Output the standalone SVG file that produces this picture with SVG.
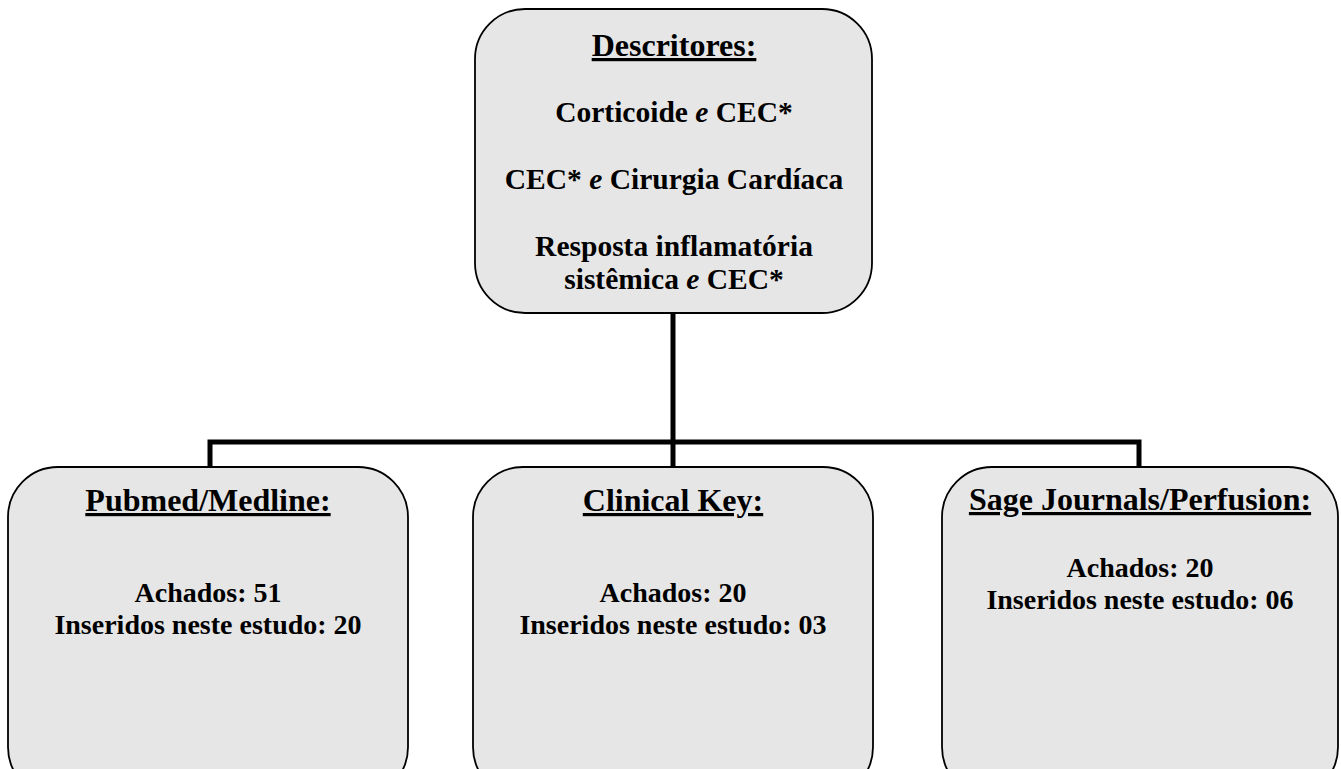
<svg xmlns="http://www.w3.org/2000/svg" width="1341" height="769" viewBox="0 0 1341 769">
<style>
.box{fill:#e6e6e6;stroke:#000;stroke-width:1.8}
.t{font-family:"Liberation Serif","Times New Roman",serif;font-weight:bold;fill:#000;text-anchor:middle}
.h{font-size:32px;text-decoration:underline}
.b{font-size:28px}
.bt{font-size:29.5px}
.c{fill:none;stroke:#000;stroke-width:5}
</style>
<rect width="1341" height="769" fill="#fff"/>
<g id="connectors">
<path class="c" d="M673 313V442M210 467V442H1139V467M673 442V467"/>
</g>
<g id="descritores">
<rect class="box" x="475" y="9" width="397" height="304" rx="50"/>
<text class="t h" x="674" y="56">Descritores:</text>
<text class="t bt" x="674" y="122">Corticoide <tspan font-style="italic">e</tspan> CEC*</text>
<text class="t bt" x="674" y="189">CEC* <tspan font-style="italic">e</tspan> Cirurgia Cardíaca</text>
<text class="t bt" x="674" y="256">Resposta inflamatória</text>
<text class="t bt" x="674" y="289">sistêmica <tspan font-style="italic">e</tspan> CEC*</text>
</g>
<g id="pubmed">
<rect class="box" x="8" y="467" width="400" height="330" rx="50"/>
<text class="t h" x="208" y="511">Pubmed/Medline:</text>
<text class="t b" x="208" y="602">Achados: 51</text>
<text class="t b" x="208" y="634">Inseridos neste estudo: 20</text>
</g>
<g id="clinicalkey">
<rect class="box" x="473" y="467" width="400" height="330" rx="50"/>
<text class="t h" x="673" y="511">Clinical Key:</text>
<text class="t b" x="673" y="602">Achados: 20</text>
<text class="t b" x="673" y="634">Inseridos neste estudo: 03</text>
</g>
<g id="sage">
<rect class="box" x="942" y="467" width="396" height="330" rx="50"/>
<text class="t h" x="1140" y="510">Sage Journals/Perfusion:</text>
<text class="t b" x="1140" y="577">Achados: 20</text>
<text class="t b" x="1140" y="609">Inseridos neste estudo: 06</text>
</g>
</svg>
